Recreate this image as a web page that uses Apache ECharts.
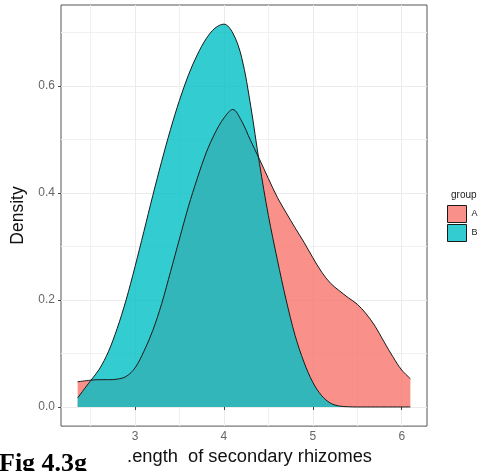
<!DOCTYPE html>
<html>
<head>
<meta charset="utf-8">
<script src="https://cdn.jsdelivr.net/npm/echarts@6/dist/echarts.min.js"></script>
<style>
  html, body { margin: 0; padding: 0; background: #ffffff; }
  #chart { width: 485px; height: 471px; }
</style>
</head>
<body>
<div id="chart"></div>
<script>
// Kernel density estimates of secondary rhizome length, sampled along x.
const xValues = [2.355, 2.5, 2.6, 2.7, 2.8, 2.9, 3.0, 3.1, 3.2, 3.3, 3.4, 3.5, 3.6, 3.7, 3.8, 3.9,
  4.0, 4.1, 4.2, 4.3, 4.4, 4.5, 4.6, 4.7, 4.8, 4.9, 5.0, 5.1, 5.2, 5.3, 5.4, 5.5, 5.6, 5.7, 5.8,
  5.9, 6.0, 6.097];
const densityA = [0.047, 0.050, 0.051, 0.051, 0.052, 0.057, 0.073, 0.104, 0.143, 0.193, 0.253,
  0.314, 0.374, 0.427, 0.475, 0.512, 0.540, 0.556, 0.534, 0.498, 0.463, 0.427, 0.392, 0.363,
  0.335, 0.308, 0.279, 0.252, 0.231, 0.217, 0.204, 0.192, 0.174, 0.151, 0.122, 0.094, 0.069, 0.053];
const densityB = [0.017, 0.049, 0.071, 0.103, 0.147, 0.200, 0.262, 0.328, 0.395, 0.459, 0.519,
  0.573, 0.620, 0.658, 0.688, 0.708, 0.7155, 0.699, 0.653, 0.564, 0.455, 0.358, 0.276, 0.200,
  0.134, 0.084, 0.046, 0.021, 0.007, 0.0017, 0.0004, 0, 0, 0, 0, 0, 0, 0];
const groupNames = ['A', 'B'];
const xMajorTicks = [3, 4, 5, 6];
const xMinorTicks = [2.5, 3.5, 4.5, 5.5];
const yMajorTicks = [0, 0.2, 0.4, 0.6];
const yMinorTicks = [0.1, 0.3, 0.5, 0.7];
const xTitle = '.ength  of secondary rhizomes';
const yTitle = 'Density';
const legendTitle = 'group';
const figureTag = 'Fig 4.3g';

// ggplot-style 5% expansion of the data range
const xSpan = xValues[xValues.length - 1] - xValues[0];
const xLo = xValues[0] - 0.05 * xSpan;
const xHi = xValues[xValues.length - 1] + 0.05 * xSpan;
const yTop = Math.max(...densityA, ...densityB);
const yLo = -0.05 * yTop;
const yHi = yTop * 1.05;

const pairs = (ys) => xValues.map((x, i) => [x, ys[i]]);

const fillA = '#F8766D';
const fillB = '#00BFC4';
const keyA = '#F9918A';
const keyB = '#33CCD0';
const majorGrid = '#EBEBEB';
const minorGrid = '#F1F1F1';
const sans = 'Liberation Sans, Arial, sans-serif';

function densitySeries(name, ys, fill) {
  return {
    name: name,
    type: 'line',
    xAxisIndex: 0,
    yAxisIndex: 0,
    data: pairs(ys),
    smooth: 0.35,
    showSymbol: false,
    symbol: 'none',
    color: fill,
    lineStyle: { color: '#1A1A1A', width: 1 },
    areaStyle: { color: fill, opacity: 0.8 },
    emphasis: { disabled: true },
    silent: true
  };
}

const chart = echarts.init(document.getElementById('chart'), null, { renderer: 'canvas' });
chart.setOption({
  animation: false,
  backgroundColor: '#ffffff',
  title: [
    {
      text: legendTitle,
      left: 446,
      top: 185,
      textStyle: { fontFamily: sans, fontSize: 10, fontWeight: 'normal', color: '#222' }
    },
    {
      text: figureTag,
      left: -1,
      top: 451,
      padding: 0,
      textStyle: { fontFamily: 'Liberation Serif, Times New Roman, serif', fontSize: 26, fontWeight: 'bold', color: '#000' }
    }
  ],
  legend: {
    orient: 'vertical',
    left: 447,
    top: 205,
    padding: 0,
    itemWidth: 19,
    itemHeight: 17,
    itemGap: 1,
    icon: 'rect',
    selectedMode: false,
    textStyle: { fontFamily: sans, fontSize: 9, color: '#222' },
    data: [
      { name: groupNames[0], itemStyle: { color: keyA, borderColor: '#1A1A1A', borderWidth: 1 } },
      { name: groupNames[1], itemStyle: { color: keyB, borderColor: '#1A1A1A', borderWidth: 1 } }
    ]
  },
  grid: {
    left: 61,
    top: 5,
    width: 366,
    height: 422,
    show: true,
    borderColor: '#555555',
    borderWidth: 1,
    backgroundColor: '#ffffff',
    containLabel: false
  },
  xAxis: [
    {
      type: 'value',
      min: xLo,
      max: xHi,
      position: 'bottom',
      axisLine: { show: false },
      axisTick: { show: true, customValues: xMajorTicks, length: 3, lineStyle: { color: '#444' } },
      axisLabel: { customValues: xMajorTicks, margin: 5, fontFamily: sans, fontSize: 12, color: '#666' },
      splitLine: { show: true, lineStyle: { color: majorGrid, width: 1 } },
      name: xTitle,
      nameLocation: 'middle',
      nameGap: 19,
      nameTextStyle: { fontFamily: sans, fontSize: 18.3, color: '#111', padding: [0, 0, 0, 11] },
      z: 1
    },
    {
      type: 'value',
      min: xLo,
      max: xHi,
      position: 'top',
      axisLine: { show: false },
      axisTick: { show: false, customValues: xMinorTicks },
      axisLabel: { show: false, customValues: xMinorTicks },
      splitLine: { show: true, lineStyle: { color: minorGrid, width: 1 } }
    }
  ],
  yAxis: [
    {
      type: 'value',
      min: yLo,
      max: yHi,
      position: 'left',
      axisLine: { show: false },
      axisTick: { show: true, customValues: yMajorTicks, length: 3, lineStyle: { color: '#444' } },
      axisLabel: {
        customValues: yMajorTicks, margin: 6, fontFamily: sans, fontSize: 12, color: '#666',
        formatter: (v) => v.toFixed(1)
      },
      splitLine: { show: true, lineStyle: { color: majorGrid, width: 1 } },
      name: yTitle,
      nameLocation: 'middle',
      nameGap: 27,
      nameRotate: 90,
      nameTextStyle: { fontFamily: sans, fontSize: 17.5, color: '#111' }
    },
    {
      type: 'value',
      min: yLo,
      max: yHi,
      position: 'right',
      axisLine: { show: false },
      axisTick: { show: false, customValues: yMinorTicks },
      axisLabel: { show: false, customValues: yMinorTicks },
      splitLine: { show: true, lineStyle: { color: minorGrid, width: 1 } }
    }
  ],
  series: [
    densitySeries(groupNames[0], densityA, fillA),
    densitySeries(groupNames[1], densityB, fillB)
  ]
});
</script>
</body>
</html>
